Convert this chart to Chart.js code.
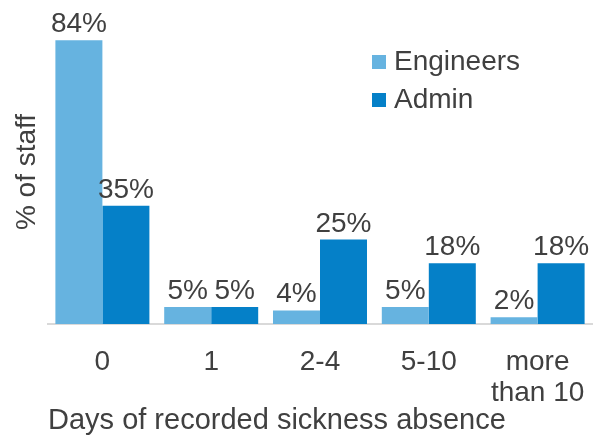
<!DOCTYPE html>
<html>
<head>
<meta charset="utf-8">
<script src="https://cdn.jsdelivr.net/npm/chart.js@4.4.1/dist/chart.umd.min.js"></script>
<style>
  html, body { margin: 0; padding: 0; background: #ffffff; }
  #wrap { width: 596px; height: 438px; }
</style>
</head>
<body>
<div id="wrap"><canvas id="myChart" width="596" height="438"></canvas></div>
<script>
// ---------------------------------------------------------------
// Sickness absence bar chart
// ---------------------------------------------------------------

const categories = ['0', '1', '2-4', '5-10', ['more', 'than 10']];
const engineers = [84, 5, 4, 5, 2];
const admin = [35, 5, 25, 18, 18];
const seriesNames = ['Engineers', 'Admin'];

const textColor = '#404040';
const fontFamily = '"Liberation Sans", Arial, sans-serif';

// value labels above each bar
const valueLabels = {
    id: 'valueLabels',
    afterDatasetsDraw(chart) {
        const c = chart.ctx;
        c.save();
        c.font = '28px ' + fontFamily;
        c.fillStyle = textColor;
        c.textAlign = 'center';
        c.textBaseline = 'alphabetic';
        chart.data.datasets.forEach(function (ds, i) {
            chart.getDatasetMeta(i).data.forEach(function (bar, j) {
                var y = Math.max(bar.y - 8, 32);
                c.fillText(ds.data[j] + '%', bar.x, y);
            });
        });
        c.restore();
    }
};

// legend drawn inside the plot, top right
const boxLegend = {
    id: 'boxLegend',
    afterDraw(chart) {
        const c = chart.ctx;
        c.save();
        c.font = '28px ' + fontFamily;
        c.textBaseline = 'middle';
        c.textAlign = 'left';
        chart.data.datasets.forEach(function (ds, i) {
            var y = 62 + i * 38;
            c.fillStyle = ds.backgroundColor;
            c.fillRect(372, y - 7, 14, 14);
            c.fillStyle = textColor;
            c.fillText(ds.label, 394, y);
        });
        c.restore();
    }
};

const ctx = document.getElementById('myChart');
const data = {
    labels: categories,
    datasets: [{
        label: seriesNames[0],
        data: engineers,
        backgroundColor: '#66b3e0'
    }, {
        label: seriesNames[1],
        data: admin,
        backgroundColor: '#0580c8'
    }]
};

const config = {
    type: 'bar',
    data: data,
    plugins: [valueLabels, boxLegend],
    options: {
        responsive: false,
        animation: false,
        layout: { padding: { top: 20, right: 4, bottom: 0, left: 0 } },
        datasets: {
            bar: { categoryPercentage: 0.864, barPercentage: 1.0 }
        },
        plugins: {
            legend: { display: false },
            tooltip: { enabled: false }
        },
        scales: {
            x: {
                grid: { display: false },
                border: { display: true, color: '#d9d9d9', width: 2 },
                ticks: {
                    color: textColor,
                    padding: 15,
                    font: { family: fontFamily, size: 28, lineHeight: 1.1 }
                },
                title: {
                    display: true,
                    text: 'Days of recorded sickness absence',
                    align: 'start',
                    color: textColor,
                    padding: { top: 0, bottom: 0 },
                    font: { family: fontFamily, size: 29 }
                },
                afterFit: function (scale) {
                    scale.height = 114;
                    scale.paddingLeft = 0;
                    scale.paddingRight = 0;
                }
            },
            y: {
                min: 0,
                max: 90,
                grid: { display: false },
                border: { display: false },
                ticks: { display: false },
                title: {
                    display: true,
                    text: '% of staff',
                    color: textColor,
                    padding: { top: 10, bottom: 0 },
                    font: { family: fontFamily, size: 28 }
                },
                afterFit: function (scale) { scale.width = 48; }
            }
        }
    }
};

var chart = new Chart(ctx, config);
</script>
</body>
</html>
